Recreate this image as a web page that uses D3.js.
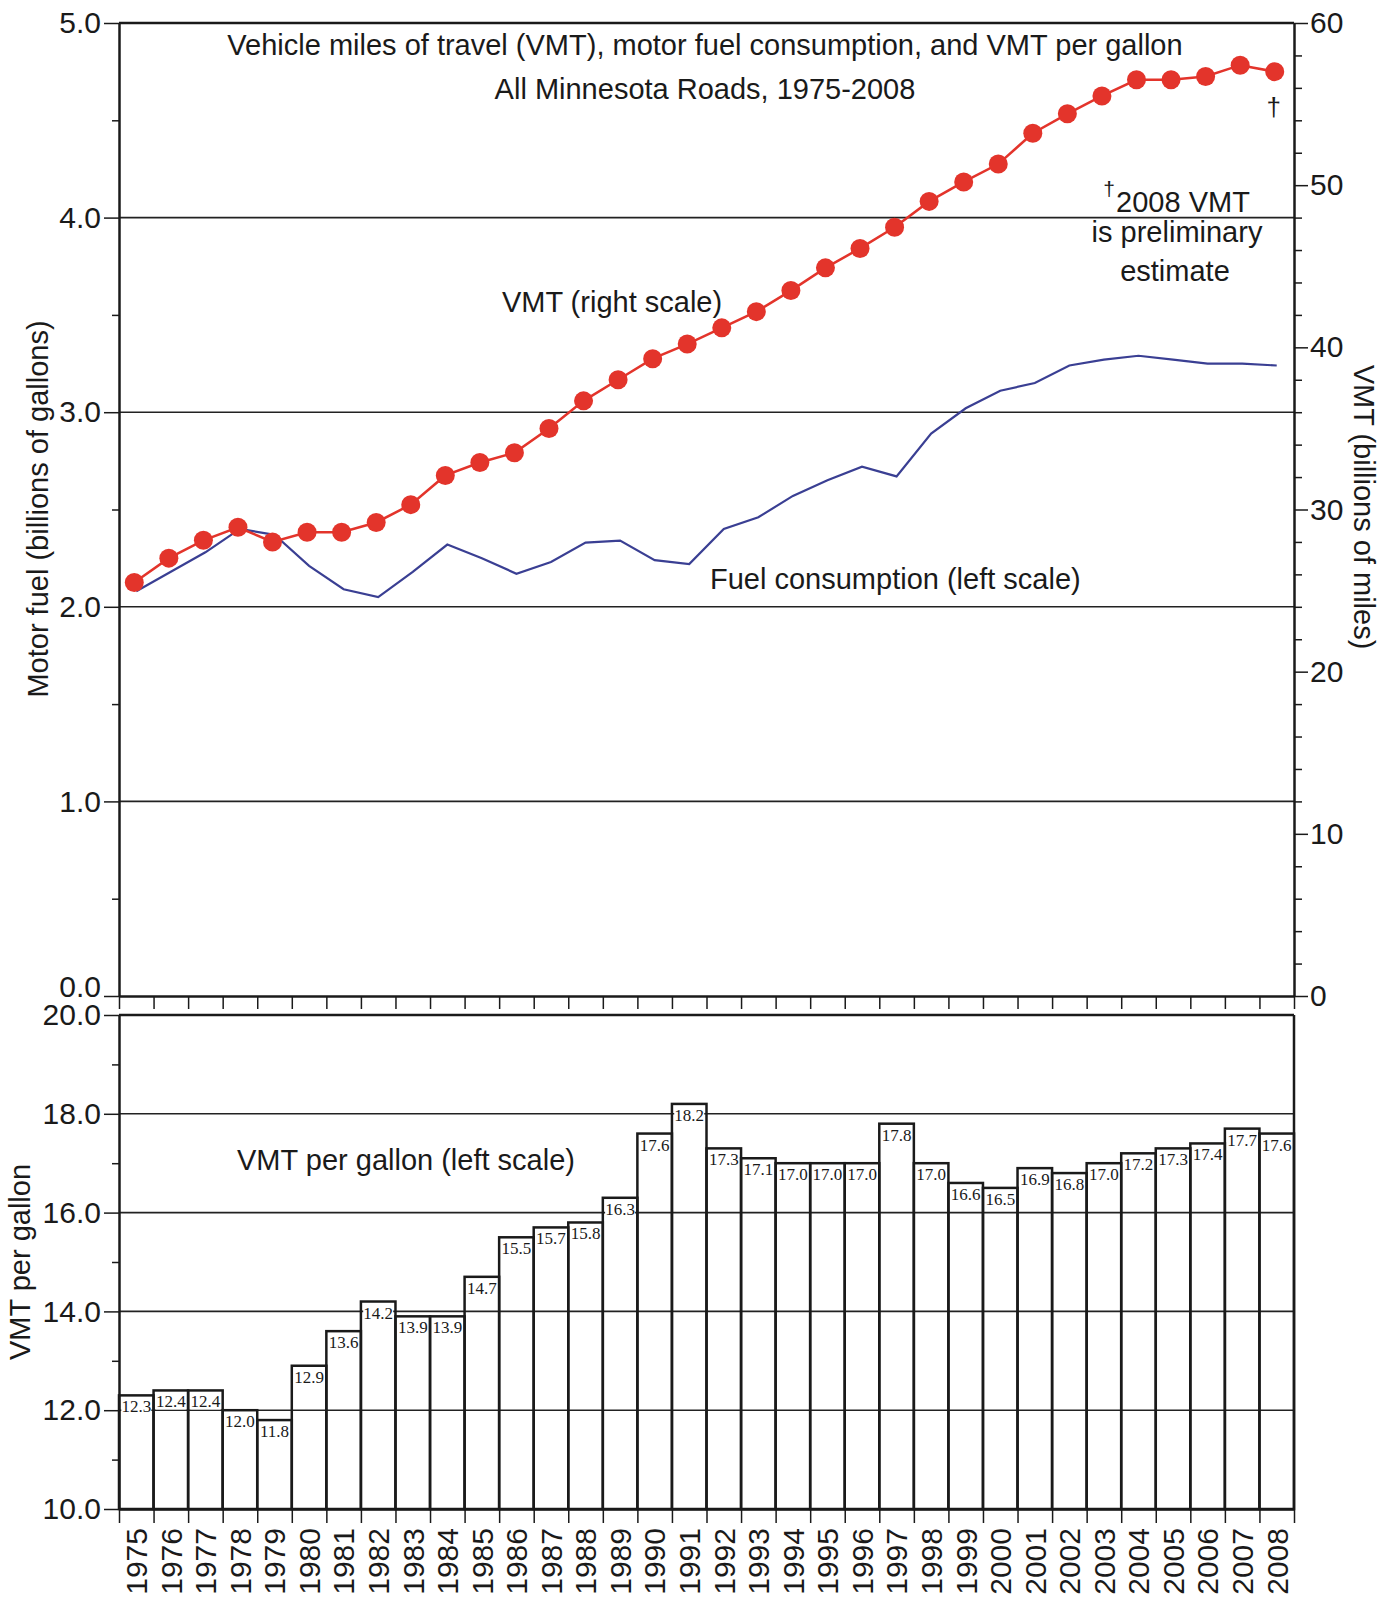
<!DOCTYPE html>
<html>
<head>
<meta charset="utf-8">
<script src="https://cdn.jsdelivr.net/npm/d3@7"></script>
<style>
body { margin: 0; background: #fff; }
text { font-family: "Liberation Sans", Arial, sans-serif; fill: #1a1a1a; }
.vlab { font-family: "Liberation Serif", "Times New Roman", serif; }
</style>
</head>
<body>
<script>
// data
var years = ["1975","1976","1977","1978","1979","1980","1981","1982","1983","1984",
    "1985","1986","1987","1988","1989","1990","1991","1992","1993","1994",
    "1995","1996","1997","1998","1999","2000","2001","2002","2003","2004",
    "2005","2006","2007","2008"];
// VMT, billions of miles (right scale)
var vmt = [25.5, 27.0, 28.1, 28.9, 28.0, 28.6, 28.6, 29.2, 30.3, 32.1,
    32.9, 33.5, 35.0, 36.7, 38.0, 39.3, 40.2, 41.2, 42.2, 43.5,
    44.9, 46.1, 47.4, 49.0, 50.2, 51.3, 53.2, 54.4, 55.5, 56.5,
    56.5, 56.7, 57.4, 57.0];
// motor fuel, billions of gallons (left scale)
var fuel = [2.08, 2.18, 2.28, 2.40, 2.37, 2.21, 2.09, 2.05, 2.18, 2.32,
    2.25, 2.17, 2.23, 2.33, 2.34, 2.24, 2.22, 2.40, 2.46, 2.57,
    2.65, 2.72, 2.67, 2.89, 3.02, 3.11, 3.15, 3.24, 3.27, 3.29,
    3.27, 3.25, 3.25, 3.24];
// VMT per gallon
var mpg = [12.3, 12.4, 12.4, 12.0, 11.8, 12.9, 13.6, 14.2, 13.9, 13.9,
    14.7, 15.5, 15.7, 15.8, 16.3, 17.6, 18.2, 17.3, 17.1, 17.0,
    17.0, 17.0, 17.8, 17.0, 16.6, 16.5, 16.9, 16.8, 17.0, 17.2,
    17.3, 17.4, 17.7, 17.6];

var fuelTicks = [0, 1, 2, 3, 4, 5];
var fuelMinor = [0.5, 1.5, 2.5, 3.5, 4.5];
var vmtTicks = [0, 10, 20, 30, 40, 50, 60];
var vmtMinor = [2, 4, 6, 8, 12, 14, 16, 18, 22, 24, 26, 28, 32, 34, 36, 38, 42, 44, 46, 48, 52, 54, 56, 58];
var mpgTicks = [10, 12, 14, 16, 18, 20];
var mpgMinor = [11, 13, 15, 17, 19];

var width = 1392, height = 1598;
var left = 119, right = 1294;
var top1 = 23, bot1 = 996, top2 = 1015, bot2 = 1509;
var fs = 29;

var svg = d3.select("body").append("svg")
    .attr("width", width)
    .attr("height", height);

var x = d3.scaleBand().domain(years).range([left, right]);
var xEdge = d3.scaleLinear().domain([0, years.length]).range([left, right]);
var yFuel = d3.scaleLinear().domain([0, 5]).range([bot1, top1]);
var yVmt = d3.scaleLinear().domain([0, 60]).range([bot1, top1]);
var yMpg = d3.scaleLinear().domain([10, 20]).range([bot2, top2]);
var cx = function(i) { return x(years[i]) + x.bandwidth() / 2; };

function styleAxis(g, size) {
    g.selectAll("path").attr("stroke", "#1a1a1a").attr("stroke-width", 2.5);
    g.selectAll("line").attr("stroke", "#1a1a1a").attr("stroke-width", 1.5);
    g.selectAll("text").attr("font-size", size).attr("font-family", "Liberation Sans, Arial, sans-serif").attr("fill", "#1a1a1a");
}

// ---------- top chart ----------
svg.append("g").selectAll("line")
    .data([1, 2, 3, 4])
    .enter().append("line")
    .attr("x1", left).attr("x2", right)
    .attr("y1", function(d) { return yFuel(d); })
    .attr("y2", function(d) { return yFuel(d); })
    .attr("stroke", "#222").attr("stroke-width", 1.6);

svg.append("line")
    .attr("x1", left).attr("x2", right)
    .attr("y1", yFuel(5)).attr("y2", yFuel(5))
    .attr("stroke", "#1a1a1a").attr("stroke-width", 2.5);

var gl = svg.append("g").attr("transform", "translate(" + left + ",0)")
    .call(d3.axisLeft(yFuel).tickValues(fuelTicks).tickFormat(d3.format(".1f")).tickSize(15).tickSizeOuter(0).tickPadding(3));
styleAxis(gl, 30);
// 0.0 sits right on top of the 20.0 of the lower chart
gl.selectAll(".tick text").filter(function(d) { return d === 0; }).attr("dy", "0.02em");
var glm = svg.append("g").attr("transform", "translate(" + left + ",0)")
    .call(d3.axisLeft(yFuel).tickValues(fuelMinor).tickFormat("").tickSize(7).tickSizeOuter(0));
styleAxis(glm, 30);
glm.select(".domain").remove();

var gr = svg.append("g").attr("transform", "translate(" + right + ",0)")
    .call(d3.axisRight(yVmt).tickValues(vmtTicks).tickFormat(d3.format("d")).tickSize(14).tickSizeOuter(0).tickPadding(2));
styleAxis(gr, 30);
var grm = svg.append("g").attr("transform", "translate(" + right + ",0)")
    .call(d3.axisRight(yVmt).tickValues(vmtMinor).tickFormat("").tickSize(8).tickSizeOuter(0));
styleAxis(grm, 30);
grm.select(".domain").remove();

var gb1 = svg.append("g").attr("transform", "translate(0," + bot1 + ")")
    .call(d3.axisBottom(xEdge).tickValues(d3.range(years.length + 1)).tickFormat("").tickSize(13).tickSizeOuter(0));
styleAxis(gb1, 30);

// fuel line
var fuelLine = d3.line()
    .x(function(d, i) { return cx(i); })
    .y(function(d) { return yFuel(d); });
svg.append("path")
    .datum(fuel)
    .attr("d", fuelLine)
    .attr("fill", "none")
    .attr("stroke", "#3a3f93")
    .attr("stroke-width", 2.2);

// vmt line + dots
var vmtLine = d3.line()
    .x(function(d, i) { return cx(i) - 2; })
    .y(function(d) { return yVmt(d); });
svg.append("path")
    .datum(vmt)
    .attr("d", vmtLine)
    .attr("fill", "none")
    .attr("stroke", "#e3342b")
    .attr("stroke-width", 2.5);
svg.append("g").selectAll("circle")
    .data(vmt)
    .enter().append("circle")
    .attr("cx", function(d, i) { return cx(i) - 2; })
    .attr("cy", function(d) { return yVmt(d); })
    .attr("r", 9.5)
    .attr("fill", "#e3342b");

// texts in top chart
svg.append("text").attr("x", 705).attr("y", 55).attr("text-anchor", "middle").attr("font-size", fs)
    .text("Vehicle miles of travel (VMT), motor fuel consumption, and VMT per gallon");
svg.append("text").attr("x", 705).attr("y", 99).attr("text-anchor", "middle").attr("font-size", fs)
    .text("All Minnesota Roads, 1975-2008");
svg.append("text").attr("x", 612).attr("y", 312).attr("text-anchor", "middle").attr("font-size", fs)
    .text("VMT (right scale)");
svg.append("text").attr("x", 710).attr("y", 589).attr("font-size", fs)
    .text("Fuel consumption (left scale)");
svg.append("text").attr("x", 1183).attr("y", 212).attr("text-anchor", "middle").attr("font-size", fs)
    .text("2008 VMT");
svg.append("text").attr("x", 1109).attr("y", 196).attr("text-anchor", "middle").attr("font-size", 21)
    .text("†");
svg.append("text").attr("x", 1177).attr("y", 242).attr("text-anchor", "middle").attr("font-size", fs)
    .text("is preliminary");
svg.append("text").attr("x", 1175).attr("y", 281).attr("text-anchor", "middle").attr("font-size", fs)
    .text("estimate");
svg.append("text").attr("x", cx(years.length - 1) - 3).attr("y", 116).attr("text-anchor", "middle").attr("font-size", 26)
    .text("†");

svg.append("text")
    .attr("transform", "translate(38,509) rotate(-90)")
    .attr("text-anchor", "middle").attr("dy", "0.35em").attr("font-size", fs)
    .text("Motor fuel (billions of gallons)");
svg.append("text")
    .attr("transform", "translate(1364,507) rotate(90)")
    .attr("text-anchor", "middle").attr("dy", "0.35em").attr("font-size", fs)
    .text("VMT (billions of miles)");

// ---------- bottom chart ----------
svg.append("g").selectAll("line")
    .data([12, 14, 16, 18])
    .enter().append("line")
    .attr("x1", left).attr("x2", right)
    .attr("y1", function(d) { return yMpg(d); })
    .attr("y2", function(d) { return yMpg(d); })
    .attr("stroke", "#222").attr("stroke-width", 1.6);

svg.append("line")
    .attr("x1", left).attr("x2", right)
    .attr("y1", yMpg(20)).attr("y2", yMpg(20))
    .attr("stroke", "#1a1a1a").attr("stroke-width", 2.5);
svg.append("line")
    .attr("x1", right).attr("x2", right)
    .attr("y1", yMpg(20)).attr("y2", yMpg(10))
    .attr("stroke", "#1a1a1a").attr("stroke-width", 2.5);

svg.append("g").selectAll("rect")
    .data(mpg)
    .enter().append("rect")
    .attr("x", function(d, i) { return x(years[i]); })
    .attr("y", function(d) { return yMpg(d); })
    .attr("width", x.bandwidth())
    .attr("height", function(d) { return yMpg(10) - yMpg(d); })
    .attr("fill", "none")
    .attr("stroke", "#1a1a1a")
    .attr("stroke-width", 2.5);

var labs = svg.append("g").selectAll("g")
    .data(mpg)
    .enter().append("g")
    .attr("transform", function(d, i) { return "translate(" + cx(i) + "," + (yMpg(d) + 17) + ")"; });
labs.append("rect")
    .attr("x", -15).attr("y", -12).attr("width", 30).attr("height", 14)
    .attr("fill", "#fff");
labs.append("text")
    .attr("class", "vlab")
    .attr("text-anchor", "middle")
    .attr("font-size", 17)
    .text(function(d) { return d.toFixed(1); });

var gl2 = svg.append("g").attr("transform", "translate(" + left + ",0)")
    .call(d3.axisLeft(yMpg).tickValues(mpgTicks).tickFormat(d3.format(".1f")).tickSize(15).tickSizeOuter(0).tickPadding(3));
styleAxis(gl2, 30);
var gl2m = svg.append("g").attr("transform", "translate(" + left + ",0)")
    .call(d3.axisLeft(yMpg).tickValues(mpgMinor).tickFormat("").tickSize(7).tickSizeOuter(0));
styleAxis(gl2m, 30);
gl2m.select(".domain").remove();

var gb2 = svg.append("g").attr("transform", "translate(0," + bot2 + ")")
    .call(d3.axisBottom(xEdge).tickValues(d3.range(years.length + 1)).tickFormat("").tickSize(14).tickSizeOuter(0));
styleAxis(gb2, 30);

svg.append("g").selectAll("text")
    .data(years)
    .enter().append("text")
    .attr("transform", function(d) { return "translate(" + (x(d) + x.bandwidth() / 2) + ",1528) rotate(-90)"; })
    .attr("text-anchor", "end")
    .attr("dy", "0.36em")
    .attr("font-size", 30)
    .text(function(d) { return d; });

svg.append("text").attr("x", 406).attr("y", 1170).attr("text-anchor", "middle").attr("font-size", fs)
    .text("VMT per gallon (left scale)");
svg.append("text")
    .attr("transform", "translate(20,1262) rotate(-90)")
    .attr("text-anchor", "middle").attr("dy", "0.35em").attr("font-size", fs)
    .text("VMT per gallon");
</script>
</body>
</html>
